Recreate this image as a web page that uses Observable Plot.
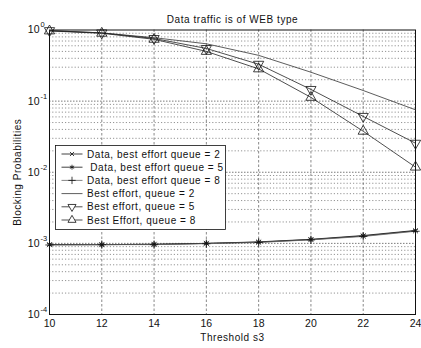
<!DOCTYPE html>
<html>
<head>
<meta charset="utf-8">
<script src="https://cdn.jsdelivr.net/npm/d3@7"></script>
<script src="https://cdn.jsdelivr.net/npm/@observablehq/plot@0.6"></script>
<style>
  body { margin: 0; background: #fff; }
  #chart svg { font-family: "Liberation Sans", Arial, sans-serif; }
  #chart svg .wide text, #chart svg text.wide { letter-spacing: 0.55px; }
</style>
</head>
<body>
<div id="chart"></div>
<script>
// Threshold s3 values (x axis)
const threshold = [10, 12, 14, 16, 18, 20, 22, 24];

// Blocking probability of data traffic, per best-effort queue size
const dataQueue2 = [9.6e-4, 9.6e-4, 9.7e-4, 1.00e-3, 1.04e-3, 1.13e-3, 1.27e-3, 1.50e-3];
const dataQueue5 = [9.6e-4, 9.6e-4, 9.7e-4, 1.00e-3, 1.05e-3, 1.14e-3, 1.29e-3, 1.52e-3];
const dataQueue8 = [9.5e-4, 9.6e-4, 9.6e-4, 0.99e-3, 1.03e-3, 1.12e-3, 1.25e-3, 1.48e-3];

// Blocking probability of best-effort traffic, per queue size
const bestQueue2 = [0.98, 0.91, 0.78, 0.64, 0.44, 0.255, 0.141, 0.0755];
const bestQueue5 = [0.98, 0.91, 0.76, 0.55, 0.33, 0.146, 0.061, 0.0256];
const bestQueue8 = [0.97, 0.90, 0.74, 0.50, 0.284, 0.113, 0.0377, 0.0118];

// Axis ticks
const xTicks = [10, 12, 14, 16, 18, 20, 22, 24];
const yExponents = [0, -1, -2, -3, -4];

const seriesLabels = [
  "Data, best effort queue = 2",
  " Data, best effort queue = 5",
  "Data, best effort queue = 8",
  "Best effort, queue = 2",
  "Best effort, queue = 5",
  "Best Effort, queue = 8"
];

// Downward-pointing triangle (mirror of d3.symbolTriangle)
const sqrt3 = Math.sqrt(3);
const symbolTriangleDown = {
  draw(context, size) {
    const y = -Math.sqrt(size / (sqrt3 * 3));
    context.moveTo(0, -y * 2);
    context.lineTo(-sqrt3 * y, y);
    context.lineTo(sqrt3 * y, y);
    context.closePath();
  }
};

const series = [
  {label: seriesLabels[0], values: dataQueue2, symbol: d3.symbolTimes, r: 2.4, legendR: 2, stroke: "#111"},
  {label: seriesLabels[1], values: dataQueue5, symbol: d3.symbolAsterisk, r: 2.6, legendR: 2.3, stroke: "#111"},
  {label: seriesLabels[2], values: dataQueue8, symbol: d3.symbolPlus, r: 2.8, legendR: 2.5, stroke: "#666"},
  {label: seriesLabels[3], values: bestQueue2, symbol: null, r: 0, legendR: 0, stroke: "#333"},
  {label: seriesLabels[4], values: bestQueue5, symbol: symbolTriangleDown, r: 3.8, legendR: 3, stroke: "#222"},
  {label: seriesLabels[5], values: bestQueue8, symbol: d3.symbolTriangle, r: 3.8, legendR: 3, stroke: "#222"}
];

const rows = series.flatMap((s, k) =>
  threshold.map((t, i) => ({s3: t, p: s.values[i], k}))
);

const decades = yExponents.map(e => 10 ** e);
const minorGrid = d3.range(-4, 0).flatMap(e => d3.range(2, 10).map(m => m * 10 ** e));

const W = 421, H = 348;
const margin = {top: 29.5, right: 6, bottom: 34, left: 49};

const marks = [
  // grid
  Plot.ruleY(minorGrid, {stroke: "#666", strokeWidth: 0.7, strokeDasharray: "1.2,2"}),
  Plot.ruleY(decades.slice(1, -1), {stroke: "#444", strokeWidth: 0.7, strokeDasharray: "1.5,1.5"}),
  Plot.ruleX(xTicks.slice(1, -1), {stroke: "#555", strokeWidth: 0.7, strokeDasharray: "2.5,2"}),
  Plot.frame({stroke: "#111", strokeWidth: 1}),
  // curves
  ...series.map((s, k) =>
    Plot.line(rows.filter(d => d.k === k), {x: "s3", y: "p", stroke: s.stroke, strokeWidth: 0.8})
  ),
  ...series.filter(s => s.symbol).map(s => {
    const k = series.indexOf(s);
    return Plot.dot(rows.filter(d => d.k === k), {
      x: "s3", y: "p", symbol: () => s.symbol, r: s.r,
      stroke: "#111", strokeWidth: 0.8, fill: "none"
    });
  }),
  // y tick labels: 10 with superscript exponent
  Plot.text(decades, {y: d => d, frameAnchor: "left", text: () => "10", dx: -10,
    textAnchor: "end", fontSize: 10.5, fill: "#111"}),
  Plot.text(yExponents, {y: e => 10 ** e, frameAnchor: "left",
    text: e => String(e), dx: -9, dy: -5,
    textAnchor: "start", fontSize: 7.5, fill: "#111"}),
  Plot.axisX(xTicks, {tickSize: 0, tickPadding: 5, fontSize: 10.5, fill: "#111", label: null}),
  // titles
  Plot.text(["Data traffic is of WEB type"], {frameAnchor: "top", dy: -14, fontSize: 10,
    fill: "#111", className: "wide"}),
  Plot.text(["Threshold s3"], {frameAnchor: "bottom", dy: 26, fontSize: 10,
    fill: "#111", className: "wide"}),
  Plot.text(["Blocking Probabilities"], {frameAnchor: "left", dx: -32, rotate: -90,
    textAnchor: "middle", fontSize: 10, fill: "#111", className: "wide"})
];

const chart = Plot.plot({
  width: W,
  height: H,
  marginTop: margin.top,
  marginRight: margin.right,
  marginBottom: margin.bottom,
  marginLeft: margin.left,
  style: {fontFamily: "Liberation Sans, Arial, sans-serif", background: "#fff"},
  x: {domain: [10, 24], axis: null},
  y: {type: "log", domain: [1e-4, 1], axis: null},
  marks
});
document.getElementById("chart").append(chart);

// Legend box inside the plotting area
const svg = d3.select(chart);
const lg = svg.append("g").attr("transform", "translate(55.5,145.5)");
const rowH = 13.2, boxW = 170, boxH = 84;
lg.append("rect").attr("width", boxW).attr("height", boxH)
  .attr("fill", "#fff").attr("stroke", "#111").attr("stroke-width", 0.8);
series.forEach((s, i) => {
  const y = 8.5 + i * rowH;
  const g = lg.append("g").attr("transform", `translate(0,${y})`);
  g.append("line").attr("x1", 6).attr("x2", 27).attr("stroke", s.stroke).attr("stroke-width", 0.8);
  if (s.symbol) {
    g.append("path")
      .attr("transform", "translate(16.5,0)")
      .attr("d", d3.symbol(s.symbol, Math.PI * s.legendR * s.legendR)())
      .attr("fill", "#fff").attr("stroke", "#111").attr("stroke-width", 0.8);
  }
  g.append("text").attr("x", 31.5).attr("dy", "0.35em")
    .attr("class", "wide")
    .attr("text-anchor", "start")
    .attr("font-size", 10).attr("fill", "#111")
    .style("white-space", "pre")
    .text(s.label);
});
</script>
</body>
</html>
